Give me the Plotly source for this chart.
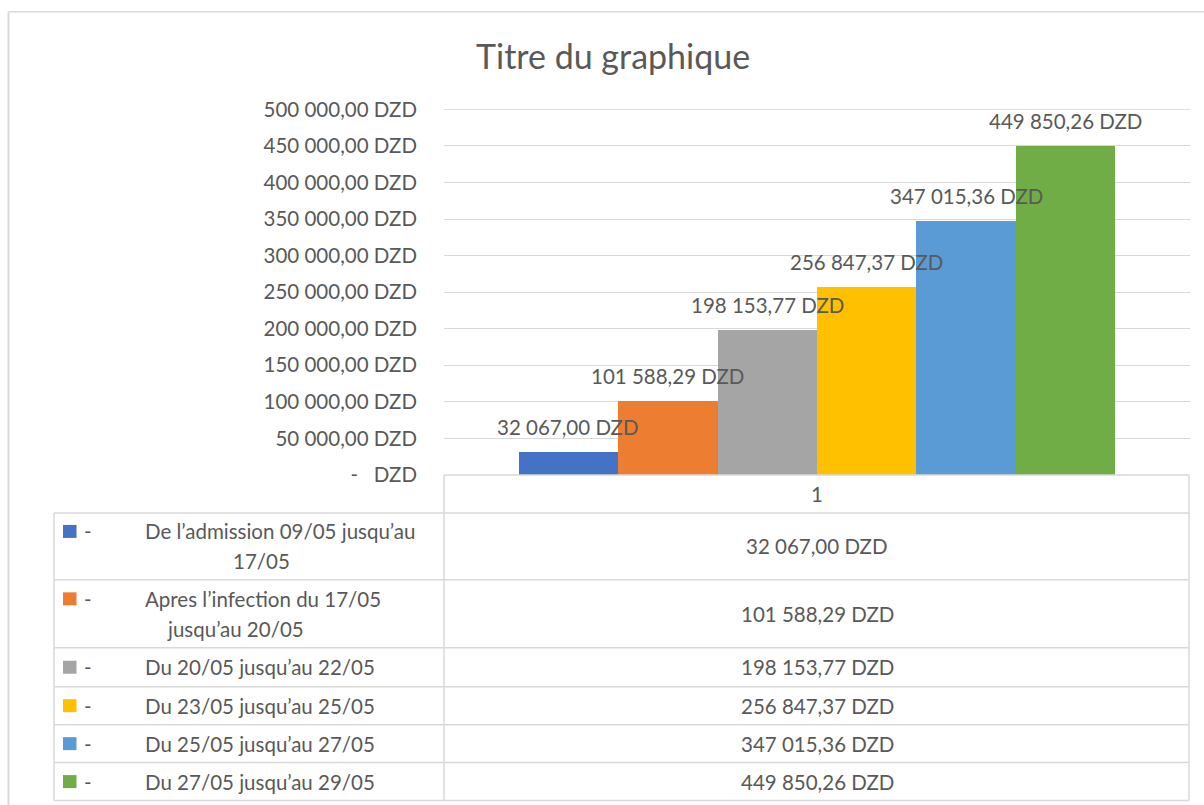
import plotly.graph_objects as go

# ---------------- data ----------------
title_text = "Titre du graphique"
category_label = "1"
series_names = [
    "De l’admission 09/05 jusqu’au 17/05",
    "Apres l’infection du 17/05 jusqu’au 20/05",
    "Du 20/05 jusqu’au 22/05",
    "Du 23/05 jusqu’au 25/05",
    "Du 25/05 jusqu’au 27/05",
    "Du 27/05 jusqu’au 29/05",
]
legend_lines = [
    ["De l’admission 09/05 jusqu’au", "17/05"],
    ["Apres l’infection du 17/05", "jusqu’au 20/05"],
    ["Du 20/05 jusqu’au 22/05"],
    ["Du 23/05 jusqu’au 25/05"],
    ["Du 25/05 jusqu’au 27/05"],
    ["Du 27/05 jusqu’au 29/05"],
]
values = [32067.00, 101588.29, 198153.77, 256847.37, 347015.36, 449850.26]
colors = ["#4472C4", "#ED7D31", "#A5A5A5", "#FFC000", "#5B9BD5", "#70AD47"]
y_ticks = [0, 50000, 100000, 150000, 200000, 250000, 300000, 350000, 400000, 450000, 500000]
y_tick_labels = ["-   DZD", "50 000,00 DZD", "100 000,00 DZD", "150 000,00 DZD",
                 "200 000,00 DZD", "250 000,00 DZD", "300 000,00 DZD", "350 000,00 DZD",
                 "400 000,00 DZD", "450 000,00 DZD", "500 000,00 DZD"]


def fmt(v):
    s = f"{v:,.2f}"
    return s.replace(",", " ").replace(".", ",") + " DZD"


# ---------------- geometry (pixels) ----------------
W, H = 1204, 805
PL, PR, PT, PB = 444, 1190, 108.5, 475
FONT = "Lato"
TXT = "#595959"
LINE = "#D9D9D9"
FS = 20.5


def px(x):
    return (x - PL) / (PR - PL)


def py(y):
    return (PB - y) / (PB - PT)


fig = go.Figure()
for name, v, c in zip(series_names, values, colors):
    fig.add_trace(go.Bar(x=[name], y=[v], name=name, marker=dict(color=c, line=dict(width=0)),
                         showlegend=False, hoverinfo="y+name"))

annotations = []
# data labels above bars
for name, v in zip(series_names, values):
    annotations.append(dict(x=name, y=v, xref="x", yref="y", text=fmt(v), showarrow=False,
                            yshift=25, font=dict(family=FONT, size=FS, color=TXT)))

# title
annotations.append(dict(x=px(613), y=py(55), xref="paper", yref="paper", text=title_text,
                        showarrow=False, font=dict(family=FONT, size=34, color=TXT),
                        xanchor="center", yanchor="middle"))

shapes = []

# top gridline (plotly drops the gridline lying on the plot edge)
shapes.append(dict(type="line", xref="paper", yref="y", x0=0, x1=1,
                   y0=y_ticks[-1], y1=y_ticks[-1], line=dict(color=LINE, width=1), layer="below"))


def hline(x0, x1, y, w=1.5):
    shapes.append(dict(type="line", xref="paper", yref="paper", x0=px(x0), x1=px(x1),
                       y0=py(y), y1=py(y), line=dict(color=LINE, width=w)))


def vline(x, y0, y1, w=1.5):
    shapes.append(dict(type="line", xref="paper", yref="paper", x0=px(x), x1=px(x),
                       y0=py(y0), y1=py(y1), line=dict(color=LINE, width=w)))


# outer chart border
hline(8.5, 1210, 11, 1.5)
vline(8.5, 11, 820, 2)

# data table
row_bounds = [513, 580, 648, 687, 725, 763, 801]
hline(444, 1189, 475)
vline(444, 475, 801)
vline(1189, 475, 801)
vline(54, 513, 801)
for yb in row_bounds:
    hline(54, 1189, yb)

# header "1"
annotations.append(dict(x=px(817), y=py(494), xref="paper", yref="paper", text=category_label,
                        showarrow=False, font=dict(family=FONT, size=FS, color=TXT),
                        xanchor="center", yanchor="middle"))

line_starts = [[143, 231], [143, 165], [143], [143], [143], [143]]
for i, (lines, v, c) in enumerate(zip(legend_lines, values, colors)):
    top, bot = row_bounds[i], row_bounds[i + 1]
    mid = (top + bot) / 2
    n = len(lines)
    first_y = mid - 15 * (n - 1)
    # value cell
    annotations.append(dict(x=px(817), y=py(mid), xref="paper", yref="paper", text=fmt(v),
                            showarrow=False, font=dict(family=FONT, size=FS, color=TXT),
                            xanchor="center", yanchor="middle"))
    # legend key
    shapes.append(dict(type="rect", xref="paper", yref="paper", x0=px(63), x1=px(76.5),
                       y0=py(first_y - 6.5), y1=py(first_y + 6.5),
                       fillcolor=c, line=dict(width=0)))
    annotations.append(dict(x=px(82), y=py(first_y), xref="paper", yref="paper", text="-",
                            showarrow=False, font=dict(family=FONT, size=FS, color=TXT),
                            xanchor="left", yanchor="middle"))
    for j, ln in enumerate(lines):
        annotations.append(dict(x=px(line_starts[i][j]), y=py(first_y + 30 * j), xref="paper",
                                yref="paper", text=ln, showarrow=False,
                                font=dict(family=FONT, size=FS, color=TXT),
                                xanchor="left", yanchor="middle"))

fig.update_layout(
    width=W, height=H, autosize=False,
    margin=dict(l=PL, r=W - PR, t=PT, b=H - PB, pad=0),
    paper_bgcolor="white", plot_bgcolor="white",
    barmode="overlay", bargap=0,
    font=dict(family=FONT, size=FS, color=TXT),
    xaxis=dict(type="category", range=[-1.25, 6.25], showticklabels=False, showgrid=False,
               zeroline=False, showline=False, ticks=""),
    yaxis=dict(range=[0, 500500], tickvals=y_ticks, ticktext=y_tick_labels, showgrid=True,
               gridcolor=LINE, gridwidth=1, zeroline=False, showline=False, ticks="",
               ticklabelstandoff=26, tickfont=dict(family=FONT, size=FS, color=TXT)),
    shapes=shapes,
    annotations=annotations,
    showlegend=False,
)

fig.write_html("out.html", post_script="document.body.style.margin='0';",
               config={"displayModeBar": False})
